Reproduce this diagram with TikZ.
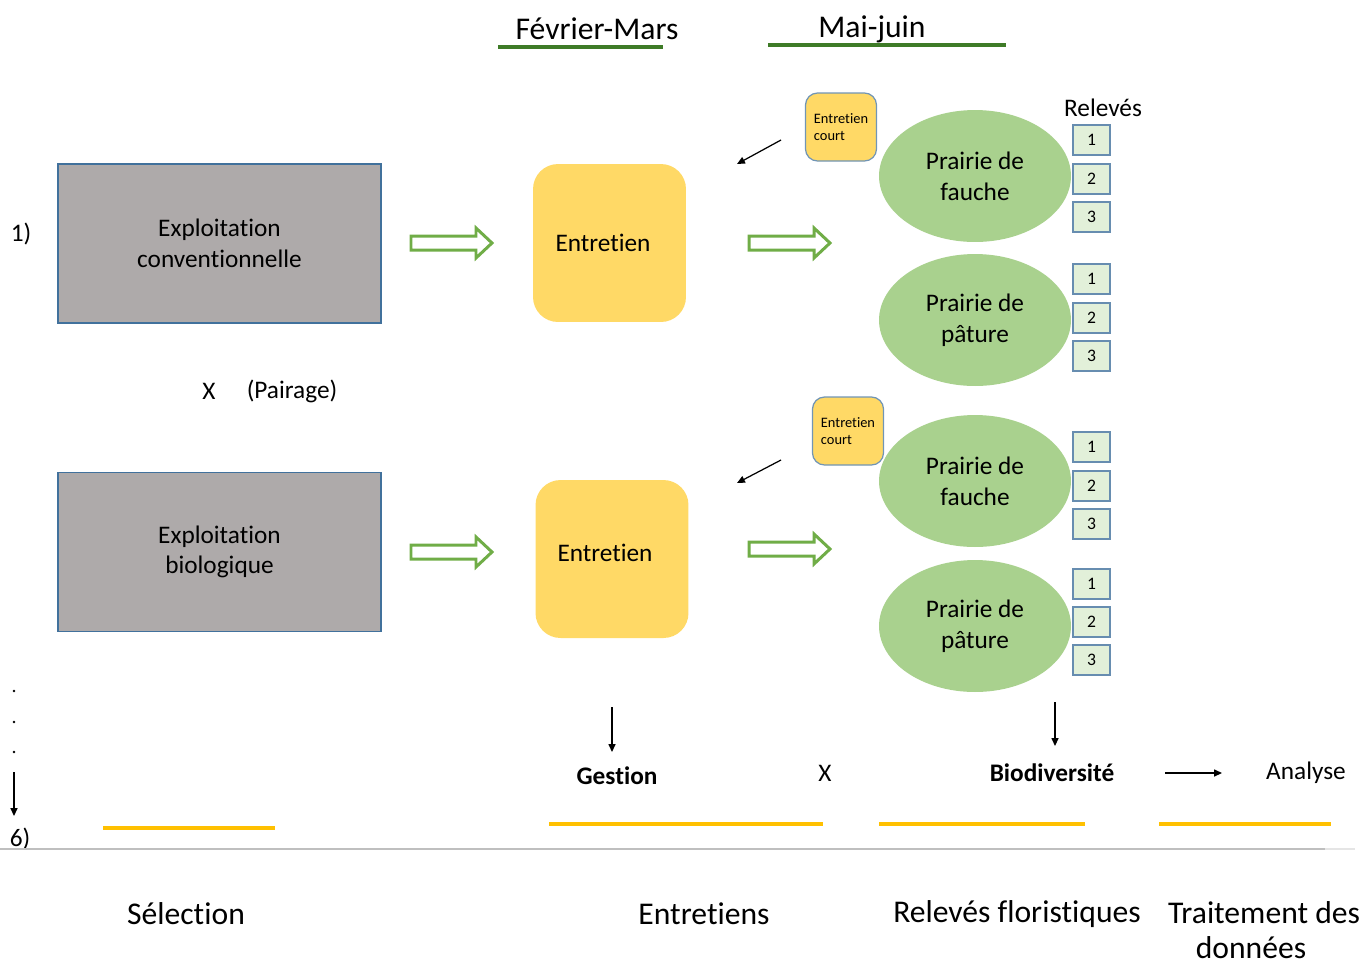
\documentclass[tikz,border=0pt]{standalone}
\usepackage{fontspec}
\setmainfont{Carlito}[Ligatures={NoCommon}]
\usetikzlibrary{arrows.meta,shapes.geometric}
\definecolor{farmgray}{HTML}{AEAAAA}
\definecolor{bordblue}{HTML}{41719C}
\definecolor{yel}{HTML}{FFD966}
\definecolor{prgreen}{HTML}{A9D18E}
\definecolor{relfill}{HTML}{E2F0D9}
\definecolor{arrgreen}{HTML}{70AD47}
\definecolor{darkgreen}{HTML}{3E7B27}
\definecolor{gold}{HTML}{FFC000}
\definecolor{basegray}{HTML}{BFBFBF}
\begin{document}
\begin{tikzpicture}[x=0.02cm,y=-0.02cm,
  farm/.style={draw=bordblue, fill=farmgray, line width=0.7pt, minimum width=6.46cm, minimum height=3.18cm, font=\fontsize{14.4}{17.5}\selectfont, align=center, inner sep=0},
  entr/.style={fill=yel, rounded corners=0.5cm, minimum width=3.06cm, minimum height=3.16cm, inner sep=0},
  court/.style={fill=yel, draw=bordblue!75, line width=0.7pt, rounded corners=0.24cm, minimum width=1.42cm, minimum height=1.36cm, align=left, font=\fontsize{8.2}{10}\selectfont, inner sep=0},
  prairie/.style={ellipse, fill=prgreen, minimum width=3.84cm, minimum height=2.64cm, inner sep=0, align=center, font=\fontsize{14.4}{17.5}\selectfont},
  rel/.style={draw=bordblue!80, fill=relfill, line width=0.7pt, minimum width=0.74cm, minimum height=0.6cm, inner sep=0, font=\fontsize{10}{12}\selectfont},
  txt/.style={font=\fontsize{14.4}{17.5}\selectfont, inner sep=0},
  boldtxt/.style={font=\fontsize{14.4}{17.5}\selectfont\bfseries, inner sep=0},
  big/.style={font=\fontsize{18}{21.5}\selectfont, inner sep=0, align=center},
  darkline/.style={line width=2.3pt, draw=darkgreen},
  goldline/.style={line width=2.3pt, draw=gold},
  blk/.style={-{Triangle[length=4.5pt,width=4pt]}, line width=0.7pt},
  harrow/.pic={\draw[draw=arrgreen, line width=1.7pt, fill=white] (0,-7) -- (65,-7) -- (65,-15) -- (81,0) -- (65,15) -- (65,7) -- (0,7) -- cycle;}
]
\useasboundingbox (0,0) rectangle (1366,965);

% header
\node[big] (fm) at (597,29) {Février-Mars};
\node[big] (mj) at (872,29) {Mai-juin};
\draw[darkline] (498,47) -- (663,47);
\draw[darkline] (768,45) -- (1006,45);

% farms
\node[farm] (conv) at (219.5,243.5) {Exploitation\\conventionnelle};
\node[farm] (bio) at (219.5,552) {Exploitation\\biologique};
\node[txt] (n1) at (21,234) {1)};
\node[txt] (x1) at (209,391) {X};
\node[txt] (pair) at (292,391) {(Pairage)};

% hollow arrows
\pic at (411,243) {harrow};
\pic at (411,552) {harrow};
\pic at (749,243) {harrow};
\pic at (749,549) {harrow};

% entretien
\node[entr, label={[txt, xshift=-0.13cm]center:Entretien}] (e1) at (609.5,243) {};
\node[entr, label={[txt, xshift=-0.14cm, yshift=0.12cm]center:Entretien}] (e2) at (612,559) {};
\node[court] (c1) at (841,127) {Entretien\\court};
\node[court] (c2) at (848,431) {Entretien\\court};
\coordinate (c1s) at (781,140);
\coordinate (c1e) at (737,164);
\coordinate (c2s) at (781,460);
\coordinate (c2e) at (737,483);
\draw[blk] (c1s) -- (c1e);
\draw[blk] (c2s) -- (c2e);

% prairies
\node[prairie] (p1) at (975,176) {Prairie de\\fauche};
\node[prairie] (p2) at (975,320) {Prairie de\\pâture};
\node[prairie] (p3) at (975,481) {Prairie de\\fauche};
\node[prairie] (p4) at (975,626) {Prairie de\\pâture};

\node[txt] (relv) at (1103,108) {Relevés};
\node[rel] (r11) at (1091.5,140) {1};
\node[rel] (r12) at (1091.5,179) {2};
\node[rel] (r13) at (1091.5,217) {3};
\node[rel] (r21) at (1091.5,279) {1};
\node[rel] (r22) at (1091.5,318) {2};
\node[rel] (r23) at (1091.5,356) {3};
\node[rel] (r31) at (1091.5,447) {1};
\node[rel] (r32) at (1091.5,486) {2};
\node[rel] (r33) at (1091.5,524) {3};
\node[rel] (r41) at (1091.5,584) {1};
\node[rel] (r42) at (1091.5,622) {2};
\node[rel] (r43) at (1091.5,660) {3};

% bottom row
\node[boldtxt] (gest) at (617,776) {Gestion};
\node[txt] (x2) at (825,773) {X};
\node[boldtxt] (bio2) at (1052,773) {Biodiversité};
\node[txt] (ana) at (1306,773) {Analyse};
\coordinate (g0) at (612,707);
\coordinate (g1) at (612,752);
\coordinate (b0) at (1055,702);
\coordinate (b1) at (1055,746);
\coordinate (a0) at (1165,773);
\coordinate (a1) at (1222,773);
\draw[blk] (g0) -- (g1);
\draw[blk] (b0) -- (b1);
\draw[blk] (a0) -- (a1);

% left dots
\fill (14,691) circle (1.3);
\fill (14,722) circle (1.3);
\fill (14,752) circle (1.3);
\coordinate (d0) at (14,772);
\coordinate (d1) at (14,816);
\draw[blk] (d0) -- (d1);
\node[txt] (n6) at (20,839) {6)};

% gold lines
\draw[goldline] (103,828) -- (275,828);
\draw[goldline] (549,824) -- (823,824);
\draw[goldline] (879,824) -- (1085,824);
\draw[goldline] (1159,824) -- (1331,824);

% base line
\draw[basegray, line width=1.1pt] (0,849) -- (1325,849);
\draw[basegray!40, line width=1.1pt] (1325,849) -- (1355,849);

% phases
\node[big] (s1) at (186,914) {Sélection};
\node[big] (s2) at (704,914) {Entretiens};
\node[big] (s3) at (1017,914) {Relevés floristiques};
\node[big, anchor=base] (s4) at (1264,923) {Traitement des};
\node[big, anchor=base] (s4b) at (1251,958) {données};
\end{tikzpicture}
\end{document}
